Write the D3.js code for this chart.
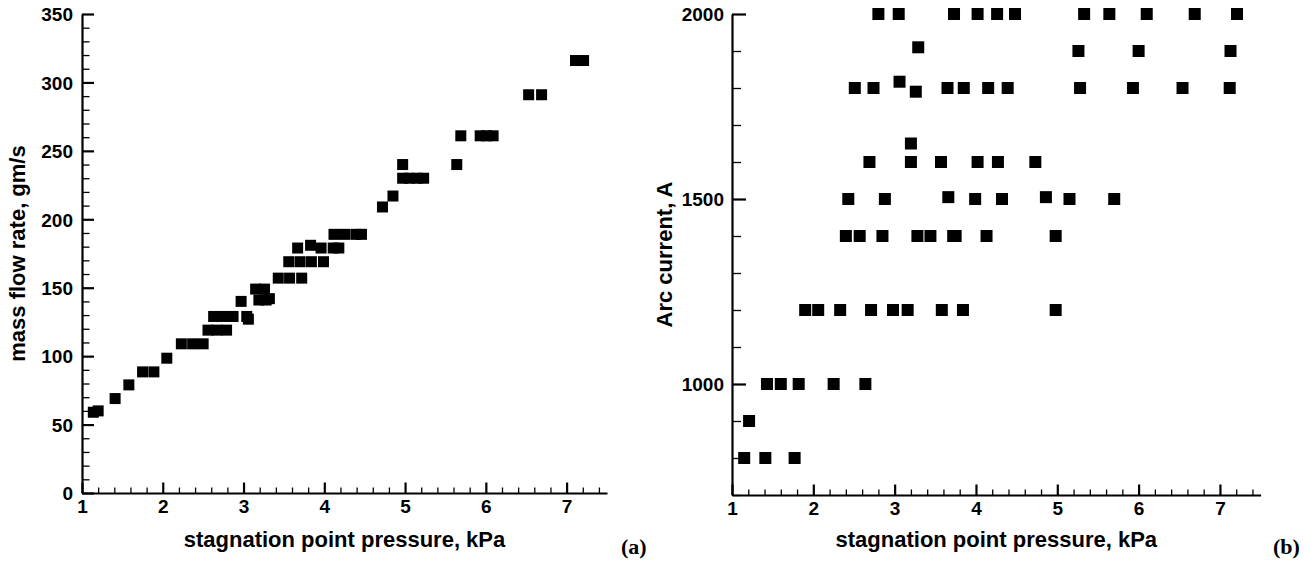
<!DOCTYPE html>
<html>
<head>
<meta charset="utf-8">
<script src="https://cdnjs.cloudflare.com/ajax/libs/d3/7.8.5/d3.min.js"></script>
<style>
    body { margin: 0; background: #fff; }
    svg text { font-family: "Liberation Sans", Arial, Helvetica, sans-serif; font-weight: bold; }
</style>
</head>
<body>
<svg id="chart" width="1313" height="565"></svg>
<script>
// x ticks shared by both panels
const xTicks = [1, 2, 3, 4, 5, 6, 7];

// (a) mass flow rate vs stagnation point pressure
const massTicks = [0, 50, 100, 150, 200, 250, 300, 350];
const massPressure = [
    1.14, 1.20, 1.41, 1.58, 1.75, 1.89, 2.05,
    2.23, 2.37, 2.50, 2.56, 2.67, 2.79, 2.63, 2.75, 2.87,
    2.97, 3.04, 3.06, 3.15, 3.26, 3.19, 3.28, 3.32,
    3.43, 3.57, 3.72, 3.56, 3.70, 3.84, 3.99,
    3.67, 3.83, 3.96, 4.11, 4.18, 4.12, 4.25, 4.39, 4.46,
    4.72, 4.85, 4.97, 5.05, 5.15, 5.23, 4.97, 5.64,
    5.69, 5.93, 6.01, 6.09, 6.53, 6.69, 7.11, 7.21
];
const massFlow = [
    59, 60, 69, 79, 88.5, 88.5, 98.5,
    109, 109, 109, 119, 119, 119, 129, 129, 129,
    140, 129, 127, 149, 149, 141, 141, 142,
    157, 157, 157, 169, 169, 169, 169,
    179, 181, 179, 179, 179, 189, 189, 189, 189,
    209, 217, 230, 230, 230, 230, 240, 240,
    261, 261, 261, 261, 291, 291, 316, 316
];

// (b) arc current vs stagnation point pressure
const arcTicks = [1000, 1500, 2000];
const arcPressure = [
    2.80, 3.05, 3.73, 4.02, 4.26, 4.48, 5.33, 5.64, 6.10, 6.69, 7.21,
    3.29, 5.26, 6.00, 7.13,
    3.06, 3.26,
    2.51, 2.74, 3.65, 3.85, 4.15, 4.39, 5.28, 5.93, 6.54, 7.12,
    3.20,
    2.69, 3.20, 3.57, 4.02, 4.27, 4.73,
    3.66, 4.86,
    2.43, 2.88, 3.99, 4.32, 5.15, 5.70,
    2.40, 2.57, 2.85, 3.28, 3.44, 3.72, 3.75, 4.13, 4.98,
    1.90, 2.06, 2.33, 2.71, 2.98, 3.16, 3.58, 3.84, 4.98,
    1.43, 1.60, 1.82, 2.25, 2.64,
    1.21,
    1.15, 1.41, 1.77
];
const arcCurrent = [
    2000, 2000, 2000, 2000, 2000, 2000, 2000, 2000, 2000, 2000, 2000,
    1910, 1900, 1900, 1900,
    1817, 1790,
    1800, 1800, 1800, 1800, 1800, 1800, 1800, 1800, 1800, 1800,
    1650,
    1600, 1600, 1600, 1600, 1600, 1600,
    1505, 1505,
    1500, 1500, 1500, 1500, 1500, 1500,
    1400, 1400, 1400, 1400, 1400, 1400, 1400, 1400, 1400,
    1200, 1200, 1200, 1200, 1200, 1200, 1200, 1200, 1200,
    1000, 1000, 1000, 1000, 1000,
    900,
    800, 800, 800
];

const svg = d3.select("#chart");
svg.append("rect").attr("width", 1313).attr("height", 565).attr("fill", "#fff");

const xMinor = d3.range(10, 76, 2).map(d => d / 10).filter(d => d % 1 !== 0);
const fmt = d3.format("d");

function drawPanel(p) {
    const g = svg.append("g");

    const x = d3.scaleLinear().domain([1, 7.5]).range([p.left, p.right]);
    const y = d3.scaleLinear().domain(p.yDomain).range([p.bottom, p.top]);

    // minor ticks
    g.append("g")
        .attr("transform", "translate(0," + p.bottom + ")")
        .call(d3.axisBottom(x).tickValues(xMinor).tickSize(-5.5).tickFormat(""))
        .call(s => s.select(".domain").remove())
        .selectAll("line").attr("stroke-width", 1.3);

    g.append("g")
        .attr("transform", "translate(" + p.left + ",0)")
        .call(d3.axisLeft(y).tickValues(p.yMinor).tickSize(-p.yMinorLen).tickFormat(""))
        .call(s => s.select(".domain").remove())
        .selectAll("line").attr("stroke-width", 1.3);

    // major ticks + labels
    const xa = g.append("g")
        .attr("transform", "translate(0," + p.bottom + ")")
        .call(d3.axisBottom(x).tickValues(xTicks).tickFormat(fmt)
            .tickSize(-10.5).tickSizeOuter(0).tickPadding(7));
    const ya = g.append("g")
        .attr("transform", "translate(" + p.left + ",0)")
        .call(d3.axisLeft(y).tickValues(p.yTicks).tickFormat(fmt)
            .tickSize(-p.yMajorLen).tickSizeOuter(0).tickPadding(p.yPad));

    [xa, ya].forEach(a => {
        a.attr("font-family", null).attr("font-size", null);
        a.select(".domain").attr("stroke-width", 2.2);
        a.selectAll(".tick line").attr("stroke-width", 2.2);
        a.selectAll("text").attr("font-size", 19).attr("fill", "#000");
    });
    ya.selectAll("text").attr("dy", "0.36em");

    // axis titles
    g.append("text")
        .attr("x", (p.left + p.right) / 2)
        .attr("y", p.xTitleY)
        .attr("text-anchor", "middle")
        .attr("font-size", 22)
        .text("stagnation point pressure, kPa");

    g.append("text")
        .attr("transform", "translate(" + p.yTitleX + "," + (p.top + p.bottom) / 2 + ") rotate(-90)")
        .attr("text-anchor", "middle")
        .attr("font-size", 22)
        .text(p.yTitle);

    // squares
    const s = p.size;
    g.selectAll(".pt")
        .data(p.xs.map((d, i) => [d, p.ys[i]]))
        .enter()
        .append("rect")
        .classed("pt", true)
        .attr("x", d => x(d[0]) - s / 2)
        .attr("y", d => y(d[1]) - s / 2)
        .attr("width", s)
        .attr("height", s)
        .attr("fill", "#000");

    g.append("text")
        .attr("x", p.tagX)
        .attr("y", 554)
        .attr("font-size", 22)
        .style("font-family", "'Liberation Serif', 'Times New Roman', serif")
        .text(p.tag);
}

drawPanel({
    left: 82, right: 607, top: 14, bottom: 493,
    yDomain: [0, 350],
    yTicks: massTicks,
    yMinor: d3.range(0, 351, 10).filter(d => d % 50 !== 0),
    yMajorLen: 12, yMinorLen: 7.5, yPad: 9,
    yTitle: "mass flow rate, gm/s", yTitleX: 25,
    xTitleY: 547,
    xs: massPressure, ys: massFlow, size: 11,
    tag: "(a)", tagX: 621
});

drawPanel({
    left: 732, right: 1260.6, top: 14, bottom: 495,
    yDomain: [700, 2000],
    yTicks: arcTicks,
    yMinor: d3.range(700, 2001, 100).filter(d => d % 500 !== 0),
    yMajorLen: 14, yMinorLen: 9, yPad: 8,
    yTitle: "Arc current, A", yTitleX: 672,
    xTitleY: 547,
    xs: arcPressure, ys: arcCurrent, size: 12,
    tag: "(b)", tagX: 1273
});
</script>
</body>
</html>
